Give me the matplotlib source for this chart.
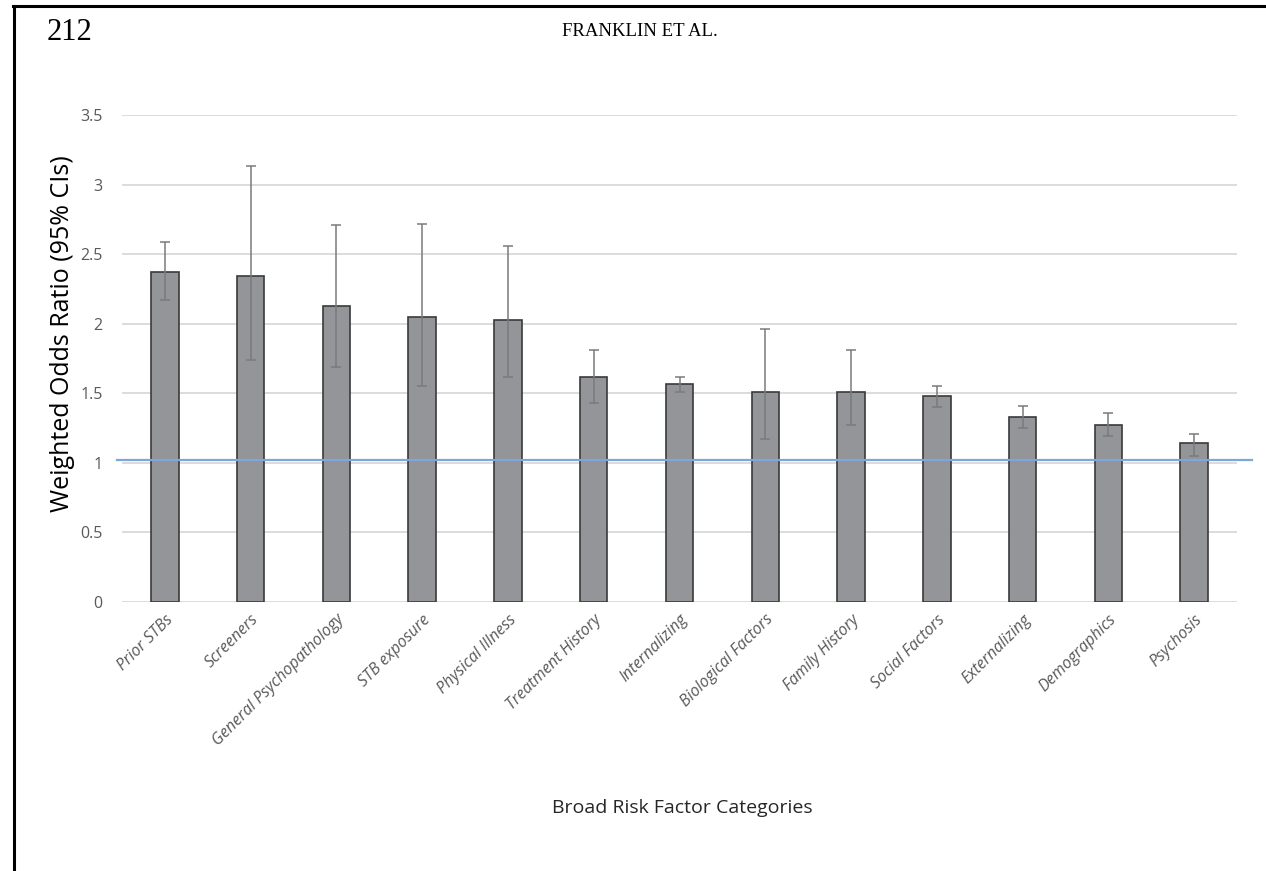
import numpy as np
import matplotlib
matplotlib.use("Agg")
import matplotlib.pyplot as plt
from matplotlib.lines import Line2D

# %% data
categories = ["Prior STBs", "Screeners", "General Psychopathology", "STB exposure",
              "Physical Illness", "Treatment History", "Internalizing",
              "Biological Factors", "Family History", "Social Factors",
              "Externalizing", "Demographics", "Psychosis"]
odds_ratio = [2.37, 2.34, 2.13, 2.05, 2.03, 1.62, 1.57, 1.51, 1.51, 1.48, 1.33, 1.27, 1.14]
ci_low = [2.17, 1.74, 1.69, 1.55, 1.62, 1.43, 1.51, 1.17, 1.27, 1.40, 1.25, 1.19, 1.05]
ci_high = [2.59, 3.13, 2.71, 2.72, 2.56, 1.81, 1.62, 1.96, 1.81, 1.55, 1.41, 1.36, 1.21]
ref_line = 1.02
yticks = [0, 0.5, 1, 1.5, 2, 2.5, 3, 3.5]
ytick_labels = ["0", "0.5", "1", "1.5", "2", "2.5", "3", "3.5"]

W, H = 1266, 871
fig = plt.figure(figsize=(W / 100, H / 100), dpi=100)
ax = fig.add_axes([122 / W, 1 - 602 / H, (1237 - 122) / W, (602 - 115) / H])

x = np.arange(len(categories))
vals = np.array(odds_ratio)
err = [vals - np.array(ci_low), np.array(ci_high) - vals]

ax.bar(x, vals, width=0.32, color='#939598', edgecolor='#3a3a3a', linewidth=1.2, zorder=3)
ax.errorbar(x, vals, yerr=err, fmt='none', ecolor='#7a7a7a', elinewidth=1.1,
            capsize=3.5, capthick=1.1, zorder=4)
ax.plot([-0.56, 12.67], [ref_line, ref_line], color='#7ea6d8', linewidth=1.6,
        zorder=5, clip_on=False)

ax.set_xlim(-0.5, len(categories) - 0.5)
ax.set_ylim(0, 3.5)
ax.set_yticks(yticks)
ax.set_yticklabels(ytick_labels, fontsize=11.5, color='#595959', family='Open Sans')
ax.set_xticks(x)
ax.set_xticklabels(categories, rotation=45, ha='right', rotation_mode='anchor',
                   fontsize=11.5, style='italic', color='#595959', family='Open Sans')
ax.tick_params(axis='both', length=0)
ax.tick_params(axis='y', pad=14)
ax.tick_params(axis='x', pad=7)
ax.grid(axis='y', color='#d9d9d9', linewidth=1.3, zorder=0)
ax.set_axisbelow(True)
for s in ax.spines.values():
    s.set_visible(False)

fig.text(63 / W, 1 - 334 / H, "Weighted Odds Ratio (95% CIs)", rotation=90,
         ha='center', va='center', fontsize=18, family='Open Sans')
fig.text(682 / W, 1 - 808 / H, "Broad Risk Factor Categories", ha='center', va='center',
         fontsize=14, family='Open Sans', color='#262626')

# page header
fig.text(47 / W, 1 - 33 / H, "212", ha='left', va='center', fontsize=22,
         family='Liberation Serif')
fig.text(640 / W, 1 - 31 / H, "FRANKLIN ET AL.", ha='center', va='center', fontsize=13.5,
         family='Liberation Serif')

# frame (top and left edges)
fig.add_artist(Line2D([13 / W, 1], [1 - 6.5 / H, 1 - 6.5 / H], color='black', linewidth=2.2))
fig.add_artist(Line2D([13.5 / W, 13.5 / W], [0, 1 - 6.5 / H], color='black', linewidth=2.2))

fig.savefig("out.png", dpi=100)
